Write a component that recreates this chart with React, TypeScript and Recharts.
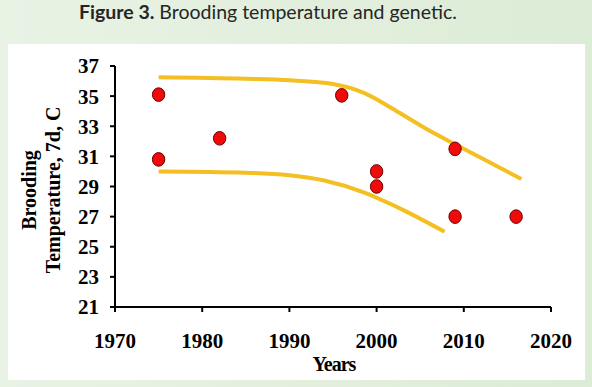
import React from "react";
import {
  ComposedChart,
  Line,
  Scatter,
  XAxis,
  YAxis,
  Label,
} from "recharts";

// observed brooding temperatures (year, deg C)
const obsYears = [1975, 1975, 1982, 1996, 2000, 2000, 2009, 2009, 2016];
const obsTemps = [35.1, 30.8, 32.2, 35.05, 30.0, 29.0, 31.5, 27.0, 27.0];

// upper envelope curve
const upperYears = [1975, 1985, 1990, 1995, 1998.6, 2002.3, 2006.1, 2009, 2016.6];
const upperTemps = [36.25, 36.15, 36.05, 35.8, 35.2, 34.0, 32.7, 31.8, 29.5];

// lower envelope curve
const lowerYears = [1975, 1985, 1990, 1994, 1998.6, 2002.3, 2007.8];
const lowerTemps = [30.0, 29.92, 29.75, 29.4, 28.6, 27.65, 26.0];

const xTicks = [1970, 1980, 1990, 2000, 2010, 2020];
const yTicks = [21, 23, 25, 27, 29, 31, 33, 35, 37];

const points = obsYears.map((year, i) => ({ year, temp: obsTemps[i] }));
const upper = upperYears.map((year, i) => ({ year, temp: upperTemps[i] }));
const lower = lowerYears.map((year, i) => ({ year, temp: lowerTemps[i] }));

const serif = "'Liberation Serif', 'Times New Roman', serif";
const tickStyle = { fill: "#000", fontSize: 21, fontWeight: 700, fontFamily: serif };

const RedDot = (props: any) => {
  const { cx, cy } = props;
  if (cx == null || cy == null) return null;
  return <ellipse cx={cx} cy={cy} rx={6.2} ry={6.8} fill="#f00a0a" stroke="#6e0000" strokeWidth={1} />;
};

const YLabel = () => (
  <text
    transform="translate(30, 190) rotate(-90)"
    textAnchor="middle"
    fontFamily={serif}
    fontWeight={700}
    fontSize={20}
    fill="#000"
  >
    <tspan x={0} dy={6}>Brooding</tspan>
    <tspan x={0} dy={24}>Temperature, 7d, C</tspan>
  </text>
);

const XLabel = () => (
  <text
    x={334}
    y={371}
    textAnchor="middle"
    fontFamily={serif}
    fontWeight={900}
    fontSize={20}
    letterSpacing={-1}
    fill="#000"
  >
    Years
  </text>
);

export default function App() {
  return (
    <div
      style={{
        position: "absolute",
        left: 0,
        top: 0,
        width: 592,
        height: 387,
        background: "linear-gradient(90deg, #e9f3e5 0%, #e2efdd 50%, #dcecd6 100%)",
        overflow: "hidden",
      }}
    >
      <div
        style={{
          position: "absolute",
          left: 79,
          top: 0,
          fontFamily: "Lato, 'Open Sans', sans-serif",
          fontSize: 19.5,
          lineHeight: "23px",
          color: "#252525",
          whiteSpace: "nowrap",
        }}
      >
        <b>Figure 3.</b> Brooding temperature and genetic.
      </div>
      <div
        style={{
          position: "absolute",
          left: 8,
          top: 44,
          width: 577,
          height: 336,
          background: "#fff",
        }}
      />
      <div style={{ position: "absolute", left: 0, top: 0 }}>
        <ComposedChart
          width={592}
          height={387}
          margin={{ top: 66, right: 41, bottom: 50, left: 55 }}
        >
          <XAxis
            type="number"
            dataKey="year"
            domain={[1970, 2020]}
            ticks={xTicks}
            allowDataOverflow
            height={30}
            tick={tickStyle}
            tickSize={5}
            tickMargin={21}
            axisLine={{ stroke: "#000", strokeWidth: 2 }}
            tickLine={{ stroke: "#000", strokeWidth: 2 }}
          >
            <Label content={<XLabel />} />
          </XAxis>
          <YAxis
            type="number"
            dataKey="temp"
            domain={[21, 37]}
            ticks={yTicks}
            width={60}
            tick={tickStyle}
            tickSize={5}
            tickMargin={11}
            axisLine={{ stroke: "#000", strokeWidth: 2 }}
            tickLine={{ stroke: "#000", strokeWidth: 2 }}
          >
            <Label content={<YLabel />} />
          </YAxis>
          <Line
            data={upper}
            dataKey="temp"
            type="monotone"
            stroke="#f4bf22"
            strokeWidth={4}
            dot={false}
            activeDot={false}
            isAnimationActive={false}
          />
          <Line
            data={lower}
            dataKey="temp"
            type="monotone"
            stroke="#f4bf22"
            strokeWidth={4}
            dot={false}
            activeDot={false}
            isAnimationActive={false}
          />
          <Scatter data={points} dataKey="temp" shape={<RedDot />} isAnimationActive={false} />
        </ComposedChart>
      </div>
    </div>
  );
}
